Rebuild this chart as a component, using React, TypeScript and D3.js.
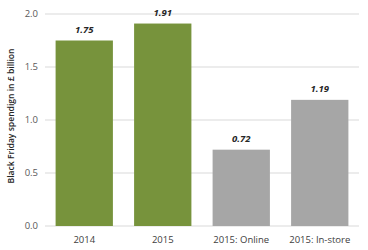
import React from "react";
import * as d3 from "d3";

const categories = ["2014", "2015", "2015: Online", "2015: In-store"];
const values = [1.75, 1.91, 0.72, 1.19];
const colors = ["#77933C", "#77933C", "#A6A6A6", "#A6A6A6"];
const yTicks = [0, 0.5, 1.0, 1.5, 2.0];
const yTitle = "Black Friday spendign in £ billion";

export default function App() {
  const W = 368, H = 250;
  const left = 45, right = 359, top = 14, bottom = 226;
  const x = d3.scaleBand<string>().domain(categories).range([left, right]).paddingInner(0.27).paddingOuter(0.135);
  const y = d3.scaleLinear().domain([0, 2]).range([bottom, top]);
  const font = "'Open Sans', 'DejaVu Sans', sans-serif";
  return (
    <svg width={W} height={H} style={{ position: "absolute", left: 0, top: 0, background: "#fff" }} fontFamily={font}>
      {yTicks.map((t) => (
        <g key={t}>
          <line x1={left} x2={right} y1={y(t)} y2={y(t)} stroke="#D9D9D9" strokeWidth={1} />
          <text x={left - 7} y={y(t)} dy="0.35em" textAnchor="end" fontSize={9.5} fill="#595959">
            {t.toFixed(1)}
          </text>
        </g>
      ))}
      {categories.map((c, i) => (
        <g key={c}>
          <rect x={x(c)} y={y(values[i])} width={x.bandwidth()} height={bottom - y(values[i])} fill={colors[i]} />
          <text x={x(c)! + x.bandwidth() / 2} y={y(values[i]) - 8} textAnchor="middle" fontSize={9.5} fontWeight="bold" fontStyle="italic" fill="#262626">
            {values[i].toFixed(2)}
          </text>
          <text x={x(c)! + x.bandwidth() / 2} y={bottom + 17} textAnchor="middle" fontSize={9.5} fill="#404040">
            {c}
          </text>
        </g>
      ))}
      <text transform={`translate(14,116) rotate(-90)`} textAnchor="middle" fontSize={9} fontWeight={600} fill="#262626" textLength={135} lengthAdjust="spacingAndGlyphs">
        {yTitle}
      </text>
    </svg>
  );
}
